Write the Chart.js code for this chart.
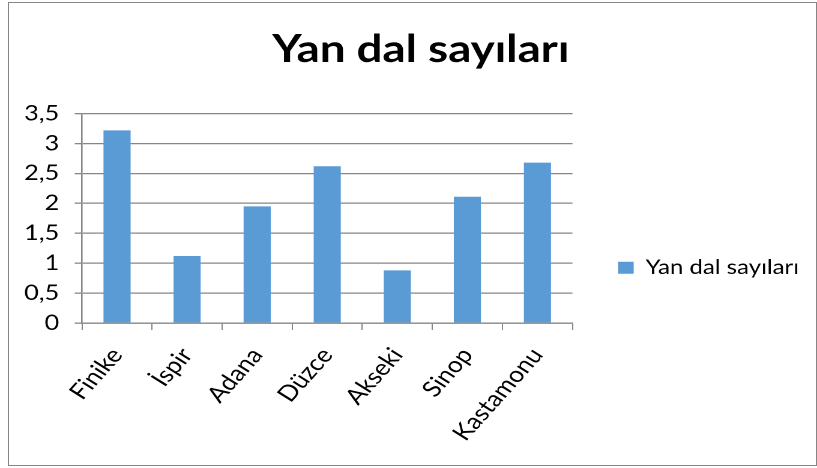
<!DOCTYPE html>
<html>
<head>
<meta charset="utf-8">
<script src="https://cdn.jsdelivr.net/npm/chart.js@4.4.0/dist/chart.umd.min.js"></script>
<style>
  html, body { margin: 0; padding: 0; background: #fff; }
  #frame {
    position: absolute; left: 8px; top: 2px;
    width: 809px; height: 464px; box-sizing: border-box;
    border: 1px solid #868686; overflow: hidden;
  }
  /* canvas drawn narrower and stretched, like the original picture */
  #chart { width: 802px !important; height: 462px !important; }
</style>
</head>
<body>
<div id="frame"><canvas id="chart" width="668" height="462"></canvas></div>
<script>
// chart data
const cities = ['Finike', 'İspir', 'Adana', 'Düzce', 'Akseki', 'Sinop', 'Kastamonu'];
const branchCounts = [3.22, 1.12, 1.95, 2.62, 0.88, 2.11, 2.68];
const yTickLabels = ['0', '0,5', '1', '1,5', '2', '2,5', '3', '3,5'];
const seriesName = 'Yan dal sayıları';

const gridGrey = '#868686';
const font = 'Lato';

// the title in the original sits a bit right of centre
const titleShift = {
    id: 'titleShift',
    afterLayout(chart) {
        if (chart.titleBlock) {
            chart.titleBlock.left += 9;
            chart.titleBlock.right += 9;
        }
    }
};

const ctx = document.getElementById('chart').getContext('2d');
new Chart(ctx, {
    type: 'bar',
    data: {
        labels: cities,
        datasets: [{
            label: seriesName,
            data: branchCounts,
            backgroundColor: '#5B9BD5',
            barPercentage: 0.387,
            categoryPercentage: 1
        }]
    },
    options: {
        responsive: false,
        animation: false,
        devicePixelRatio: 2,
        layout: { padding: 0 },
        plugins: {
            title: {
                display: true,
                text: seriesName,
                color: '#000',
                font: { family: font, size: 38, weight: 'bold' },
                padding: { top: 24, bottom: 41 }
            },
            legend: {
                position: 'right',
                maxWidth: 200,
                title: { display: true, text: '', padding: { top: 53, bottom: 0 }, font: { size: 12 } },
                labels: {
                    boxWidth: 13,
                    boxHeight: 12,
                    padding: 38,
                    color: '#000',
                    font: { family: font, size: 20 }
                }
            },
            tooltip: { enabled: false }
        },
        scales: {
            x: {
                afterFit: s => { s.height = 142; },
                grid: { display: true, drawOnChartArea: false, offset: true, tickLength: 7, color: gridGrey, lineWidth: 1 },
                border: { display: true, color: gridGrey, width: 1.3 },
                ticks: {
                    color: '#000',
                    font: { family: font, size: 22 },
                    minRotation: 53,
                    maxRotation: 53,
                    padding: 13
                }
            },
            y: {
                min: 0,
                max: 3.5,
                afterFit: s => { s.width = 60.8; },
                grid: { color: gridGrey, lineWidth: 1.3, tickLength: 6 },
                border: { display: true, color: gridGrey, width: 1.3 },
                ticks: {
                    stepSize: 0.5,
                    color: '#000',
                    padding: 13,
                    font: { family: font, size: 21 },
                    callback: (v, i) => yTickLabels[i]
                }
            }
        }
    },
    plugins: [titleShift]
});
</script>
</body>
</html>
